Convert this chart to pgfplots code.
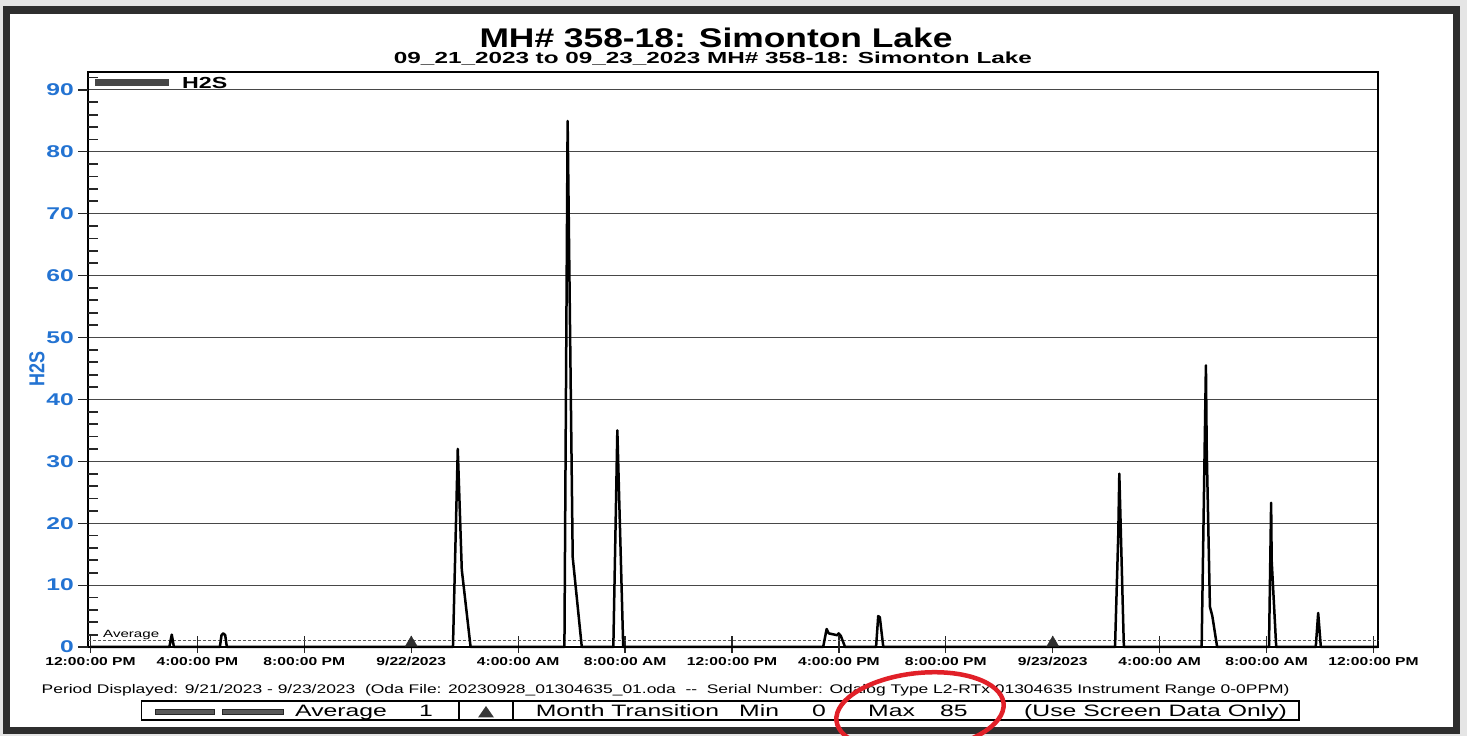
\documentclass[border=0pt]{standalone}
\usepackage{pgfplots}
\pgfplotsset{compat=1.18}
\usepackage{graphicx}
\usepackage{fontspec}
\setmainfont{Liberation Sans}
\definecolor{labblue}{RGB}{35,115,210}
\definecolor{circred}{RGB}{225,32,40}
\newcommand{\sx}[1]{\scalebox{1.45}[1]{#1}}
\newcommand{\xl}[1]{\scalebox{1.36}[1]{#1}}
\newcommand{\ft}[1]{\scalebox{1.5}[1]{\fontsize{16.5}{16.5}\selectfont #1}}
\begin{document}
\begin{tikzpicture}[x=1pt,y=1pt]
\clip (0,0) rectangle (1467,736);
\fill[black!10] (0,0) rectangle (1467,736);
\fill[white] (6.5,5.5) rectangle (1456.5,726);
\draw[black!82, line width=7.5pt] (6.5,5.5) rectangle (1456.5,726);

% titles
\node[anchor=base, inner sep=0pt] at (716,688) {\resizebox{473pt}{\height}{\fontsize{27}{27}\selectfont\bfseries MH\# 358-18: Simonton Lake}};
\node[anchor=base, inner sep=0pt] at (713,672) {\resizebox{638pt}{\height}{\fontsize{16}{16}\selectfont\bfseries 09\_21\_2023 to 09\_23\_2023 MH\# 358-18: Simonton Lake}};

\begin{axis}[
  at={(88pt,89pt)}, anchor=south west,
  width=1290pt, height=575pt, scale only axis,
  xmin=-0.094, xmax=48.17, ymin=0, ymax=92.9,
  clip=false,
  axis line style={line width=1.3pt, black},
  major tick length=0pt, minor tick length=0pt,
  xtick={0,4,8,12,16,20,24,28,32,36,40,44,48},
  xticklabels={\xl{12:00:00 PM},\xl{4:00:00 PM},\xl{8:00:00 PM},\xl{9/22/2023},\xl{4:00:00 AM},\xl{8:00:00 AM},\xl{12:00:00 PM},\xl{4:00:00 PM},\xl{8:00:00 PM},\xl{9/23/2023},\xl{4:00:00 AM},\xl{8:00:00 AM},\xl{12:00:00 PM}},
  ytick={0,10,20,30,40,50,60,70,80,90},
  yticklabels={\sx{0},\sx{10},\sx{20},\sx{30},\sx{40},\sx{50},\sx{60},\sx{70},\sx{80},\sx{90}},
  ymajorgrids, grid style={line width=1.1pt, black!72},
  xticklabel style={font=\fontsize{11.5}{11.5}\selectfont\bfseries, inner sep=0pt, anchor=north, yshift=-10pt},
  yticklabel style={font=\fontsize{17}{17}\selectfont\bfseries, inner sep=0pt, anchor=east, xshift=-14pt, text=labblue},
]
% thick left and bottom axis lines
\draw[line width=2.6pt] (rel axis cs:0,0) -- (rel axis cs:0,1);
\draw[line width=2.6pt] (rel axis cs:0,0) -- (rel axis cs:1,0);
% y major ticks (outside)
\pgfplotsinvokeforeach{0,10,20,30,40,50,60,70,80,90}{\draw[line width=1.2pt, black!85] ([xshift=-10pt]axis cs:-0.094,#1) -- (axis cs:-0.094,#1);}
% y minor ticks (inside)
\pgfplotsinvokeforeach{2,4,6,8,12,14,16,18,22,24,26,28,32,34,36,38,42,44,46,48,52,54,56,58,62,64,66,68,72,74,76,78,82,84,86,88,92}{\draw[line width=1.8pt, black!85] (axis cs:-0.094,#1) -- ([xshift=10pt]axis cs:-0.094,#1);}
% x ticks
\pgfplotsinvokeforeach{0,4,8,12,16,20,24,28,32,36,40,44,48}{\draw[line width=1.2pt, black!85] ([yshift=-6pt]axis cs:#1,0) -- ([yshift=11pt]axis cs:#1,0);}

% average
\addplot[black!65, line width=1pt, dash pattern=on 3pt off 2pt] coordinates {(-0.094,1) (48.17,1)};

% H2S
\addplot[black, line width=2.5pt, line join=round] coordinates {
(0,0)
(2.95,0) (3.04,2.0) (3.12,0)
(4.84,0) (4.90,1.9) (4.97,2.2) (5.04,1.9) (5.10,0)
(13.56,0) (13.74,32) (13.89,12.5) (14.22,0)
(17.73,0) (17.85,85) (18.04,14.5) (18.38,0)
(19.56,0) (19.71,35) (19.93,0)
(27.41,0) (27.54,2.9) (27.62,2.2) (27.94,1.9) (27.99,2.2) (28.07,1.8) (28.23,0)
(29.39,0) (29.47,5.0) (29.53,4.8) (29.66,0)
(38.33,0) (38.45,18) (38.49,28) (38.66,0)
(41.57,0) (41.73,45.5) (41.76,32) (41.88,6.5) (41.97,5) (42.15,0)
(44.09,0) (44.17,23.3) (44.19,14) (44.36,0)
(45.84,0) (45.93,5.5) (46.03,0)
(48.17,0)
};

% month transitions
\addplot[only marks, mark=triangle*, mark size=7pt, mark options={fill=black!82, draw=black!82, yshift=4pt}] coordinates {(12,0) (36,0)};
\end{axis}

% legend
\fill[black!72] (95,649.5) rectangle (169,656.5);
\node[anchor=base west, inner sep=0pt] at (182,647.5) {\sx{\fontsize{16}{16}\selectfont\bfseries H2S}};

% y label
\node[rotate=90, inner sep=0pt] at (37,367) {\scalebox{1}[1.2]{\fontsize{18}{18}\selectfont\bfseries\color{labblue}H2S}};

% Average label
\node[anchor=base west, inner sep=0pt] at (103,98) {\resizebox{56pt}{\height}{\fontsize{10.5}{10.5}\selectfont Average}};

% footer line 1
\node[anchor=base west, inner sep=0pt] at (41.5,42) {\resizebox{1248pt}{\height}{\fontsize{12.5}{12.5}\selectfont Period Displayed: 9/21/2023 - 9/23/2023\ \ (Oda File: 20230928\_01304635\_01.oda\ \ -{}-\ \ Serial Number: Odalog Type L2-RTx 01304635 Instrument Range 0-0PPM)}};

% footer box
\draw[line width=1.6pt] (141.6,16) rectangle (1299,35);
\draw[line width=1.6pt] (459,16) -- (459,35);
\draw[line width=1.6pt] (513,16) -- (513,35);
\fill[black!65, draw=black!85, line width=0.6pt] (155.7,22) rectangle (214.7,27);
\fill[black!65, draw=black!85, line width=0.6pt] (221.8,22) rectangle (283,27);
\fill[black!78] (478,18.5) -- (494,18.5) -- (486,30) -- cycle;
\node[anchor=base west, inner sep=0pt] at (295,19) {\ft{Average}};
\node[anchor=base west, inner sep=0pt] at (419,19) {\ft{1}};
\node[anchor=base west, inner sep=0pt] at (535.6,19) {\ft{Month Transition}};
\node[anchor=base west, inner sep=0pt] at (739,19) {\ft{Min}};
\node[anchor=base west, inner sep=0pt] at (812,19) {\ft{0}};
\node[anchor=base west, inner sep=0pt] at (868,19) {\ft{Max}};
\node[anchor=base west, inner sep=0pt] at (940,19) {\ft{85}};
\node[anchor=base west, inner sep=0pt] at (1024,19) {\ft{(Use Screen Data Only)}};

% red circle
\draw[circred, line width=4.5pt, rotate around={6:(920,24)}] (920,24) ellipse (84 and 39);
\end{tikzpicture}
\end{document}
